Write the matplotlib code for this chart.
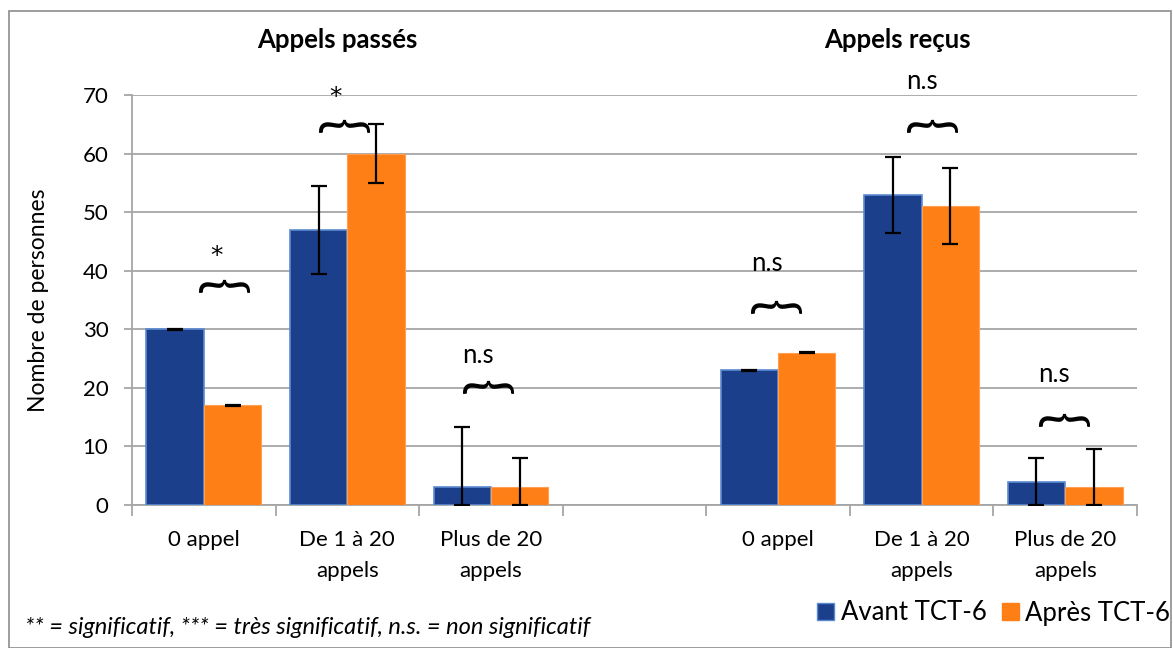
import matplotlib
matplotlib.use("Agg")
import numpy as np
from matplotlib import pyplot as plt
from matplotlib.patches import Patch, Rectangle

plt.rcParams['font.family'] = ['Lato', 'DejaVu Sans']

categories = ['0 appel', 'De 1 à 20\nappels', 'Plus de 20\nappels', '',
              '0 appel', 'De 1 à 20\nappels', 'Plus de 20\nappels']
avant = [30, 47, 3, np.nan, 23, 53, 4]
apres = [17, 60, 3, np.nan, 26, 51, 3]
err_avant = [0.1, 7.5, 10.4, 0, 0.1, 6.5, 4]
err_apres = [0.1, 5, 5, 0, 0.1, 6.5, 6.5]
group_titles = ['Appels passés', 'Appels reçus']
sig_labels = ['*', '*', 'n.s', 'n.s', 'n.s', 'n.s']
# (brace x, brace y, label x, label y) for each significance mark
sig_pos = [(0.113, 37.4, 0.092, 42.5), (0.948, 64.6, 0.92, 69.6), (1.95, 20.1, 1.91, 25.6),
           (3.957, 33.7, 3.92, 41.3), (5.04, 64.6, 5.0, 72.3), (5.96, 14.4, 5.92, 22.2)]

blue = '#1b3f8b'
blue_edge = '#5b8ad0'
orange = '#ff7f17'
grid_c = '#a6a6a6'

fig = plt.figure(figsize=(11.73, 6.48), dpi=100)
fig.patches.append(Rectangle((9 / 1173, 0), 1162 / 1173, 637 / 648, transform=fig.transFigure,
                             fill=False, edgecolor='#8c8c8c', linewidth=1.2))
ax = fig.add_axes([132 / 1173, 143 / 648, 1005 / 1173, 410 / 648])

x = np.arange(len(categories))
w = 0.4


def low_err(vals, errs):
    return [min(e, v) if not np.isnan(v) else 0 for v, e in zip(vals, errs)]


ax.bar(x - w / 2, avant, w, color=blue, edgecolor=blue_edge, linewidth=1.2, zorder=3)
ax.bar(x + w / 2, apres, w, color=orange, edgecolor='#ffa050', linewidth=0.8, zorder=3)
ax.errorbar(x - w / 2, avant, yerr=[low_err(avant, err_avant), err_avant], fmt='none',
            ecolor='black', elinewidth=1.6, capsize=6, capthick=1.6, zorder=4)
ax.errorbar(x + w / 2, apres, yerr=[low_err(apres, err_apres), err_apres], fmt='none',
            ecolor='black', elinewidth=1.6, capsize=6, capthick=1.6, zorder=4)

ax.set_xlim(-0.5, len(categories) - 0.5)
ax.set_ylim(0, 70)
ax.set_yticks(range(0, 71, 10))
ax.yaxis.grid(True, color=grid_c, linewidth=1.3, zorder=0)
ax.set_axisbelow(True)
ax.set_xticks(np.arange(-0.5, len(categories)), labels=[])
ax.set_xticks(x, labels=categories, minor=True)
ax.tick_params(axis='x', which='major', length=8, color=grid_c, width=1.3)
ax.tick_params(axis='x', which='minor', length=0, labelsize=16, pad=18)
ax.tick_params(axis='y', length=6, color=grid_c, width=1.3, labelsize=16, pad=11)
for lab in ax.get_xticklabels(minor=True):
    lab.set_linespacing(1.7)
for s in ['top', 'right']:
    ax.spines[s].set_visible(False)
for s in ['left', 'bottom']:
    ax.spines[s].set_color(grid_c)
    ax.spines[s].set_linewidth(1.3)
ax.set_ylabel('Nombre de personnes', fontsize=16.5, labelpad=24)

for t, xc in zip(group_titles, [0.93, 4.83]):
    ax.text(xc, 79.4, t, ha='center', va='center', fontsize=18.5, fontweight='bold')

for lab, (xb, yb, xl, yl) in zip(sig_labels, sig_pos):
    ax.text(xb, yb, '{', rotation=-90, ha='center', va='center', fontsize=40,
            clip_on=False)
    if lab == '*':
        ax.text(xl, yl, lab, ha='center', va='center', fontsize=18, clip_on=False,
                family='DejaVu Sans')
    else:
        ax.text(xl, yl, lab, ha='center', va='center', fontsize=18.5, clip_on=False)

fig.text(25 / 1173, 1 - 628 / 648, '** = significatif, *** = très significatif, n.s. = non significatif',
         fontsize=17, style='italic', va='center')
handles = [Patch(facecolor=blue, edgecolor=blue_edge, label='Avant TCT-6'),
           Patch(facecolor=orange, edgecolor=orange, label='Après TCT-6')]
fig.legend(handles=handles, loc='center right', bbox_to_anchor=(1170 / 1173, 1 - 613 / 648),
           ncol=2, frameon=False, fontsize=18.5, handlelength=0.65, handleheight=0.65,
           handletextpad=0.25, columnspacing=0.6, borderpad=0, borderaxespad=0)

fig.savefig('out.png', dpi=100)
